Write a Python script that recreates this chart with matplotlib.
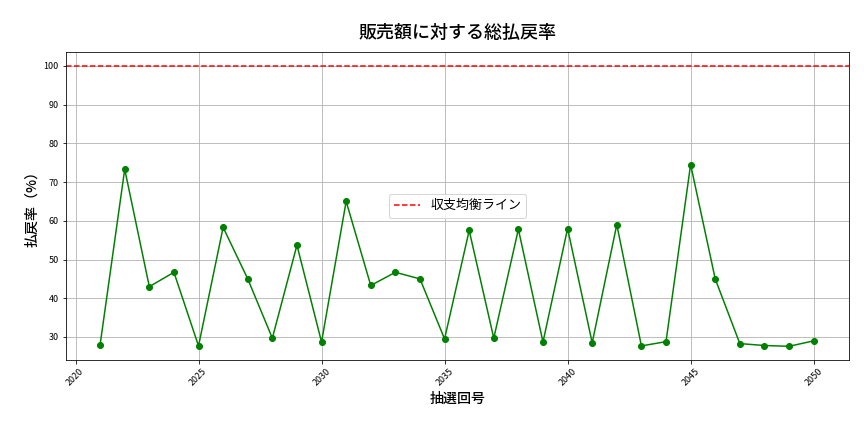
import matplotlib
matplotlib.use("Agg")
import matplotlib.pyplot as plt

plt.rcParams['font.family'] = ['Noto Sans CJK JP', 'DejaVu Sans']

draws = list(range(2021, 2051))
rates = [28, 73.3, 43, 46.7, 27.7, 58.3, 45, 29.7, 53.7, 28.7,
         65, 43.3, 46.7, 45, 29.5, 57.5, 29.7, 57.8, 28.7, 58,
         28.5, 59, 27.7, 28.8, 74.5, 45, 28.3, 27.8, 27.6, 29]

fig, ax = plt.subplots(figsize=(12, 6), dpi=72)
fig.subplots_adjust(left=0.076, right=0.983, top=0.88, bottom=0.167)
ax.plot(draws, rates, color='green', marker='o', markersize=6)
ax.axhline(100, color='red', linestyle='--', label='収支均衡ライン')
ax.set_xlim(2019.6, 2051.45)
ax.set_ylim(24.1, 103.6)
ax.set_yticks(range(30, 101, 10))
ax.tick_params(axis='x', labelrotation=45, labelsize=9)
ax.tick_params(axis='y', labelsize=9)
ax.grid(True, color='#b0b0b0', linewidth=0.8)
ax.set_title('販売額に対する総払戻率', fontsize=18, fontweight='medium', pad=14)
ax.set_xlabel('抽選回号', fontsize=14, fontweight='medium')
ax.set_ylabel('払戻率（%）', fontsize=14, fontweight='medium')
ax.legend(loc='center', fontsize=13)
fig.savefig('out.png')
